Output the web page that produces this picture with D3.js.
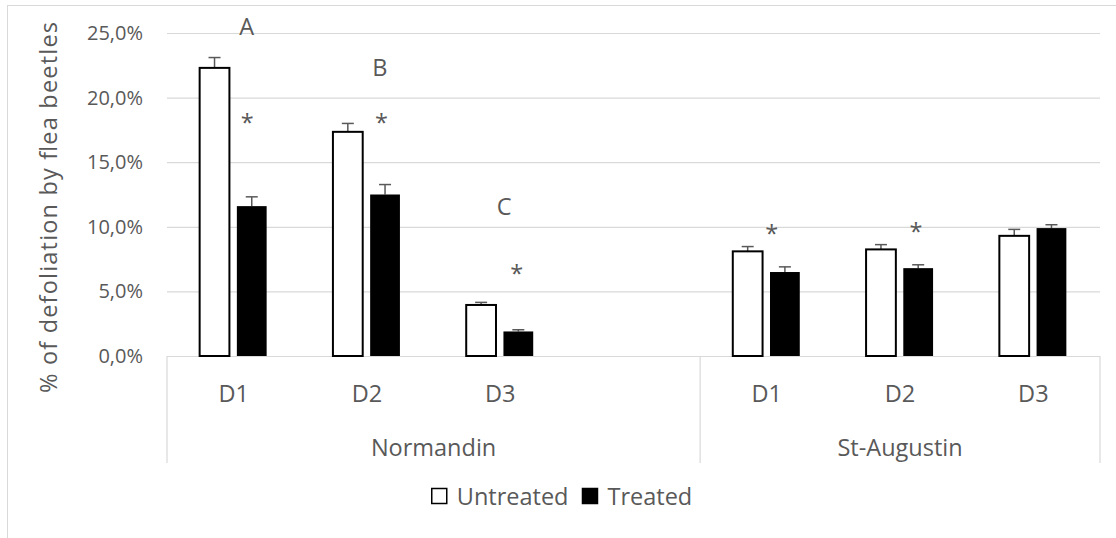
<!DOCTYPE html>
<html>
<head>
<meta charset="utf-8">
<script src="https://cdn.jsdelivr.net/npm/d3@7"></script>
<style>
  html, body { margin: 0; padding: 0; background: #ffffff; }
  svg { display: block; }
  text { font-family: "Open Sans", sans-serif; fill: #595959; }
</style>
</head>
<body>
<svg id="chart" width="1116" height="538"></svg>
<script>
// ---- data ----
const sites = ["Normandin", "Normandin", "Normandin", "Normandin", "St-Augustin", "St-Augustin", "St-Augustin"];
const dates = ["D1", "D2", "D3", "", "D1", "D2", "D3"];
const seriesNames = ["Untreated", "Treated"];
const untreated    = [22.3, 17.35, 3.95, null, 8.1, 8.25, 9.3];
const untreatedErr = [0.8, 0.65, 0.2, null, 0.37, 0.37, 0.5];
const treated      = [11.6, 12.5, 1.9, null, 6.5, 6.8, 9.9];
const treatedErr   = [0.72, 0.77, 0.13, null, 0.4, 0.26, 0.26];
const yTicks = [0, 5, 10, 15, 20, 25];
const yTitle = "% of defoliation by flea beetles";

// significance letters and asterisks: category index, label, height in % units
const noteCats   = [0, 1, 2, 0, 1, 2, 4, 5];
const noteLabels = ["A", "B", "C", "*", "*", "*", "*", "*"];
const noteValues = [24.85, 21.65, 10.9, 17.4, 17.4, 5.7, 8.8, 8.95];

// ---- layout ----
const W = 1116, H = 538;
const plot = { left: 167, right: 1100, top: 33, bottom: 356 };
const catAxisBottom = 463;
const ink = "#595959", grid = "#d9d9d9";

const svg = d3.select("#chart");

// chart area border
svg.append("rect")
  .attr("x", 7.5).attr("y", 5.5)
  .attr("width", 1110).attr("height", 545)
  .attr("fill", "#ffffff").attr("stroke", grid).attr("stroke-width", 1);

const x = d3.scaleBand().domain(d3.range(sites.length)).range([plot.left, plot.right]).padding(0);
const xs = d3.scaleBand().domain(seriesNames).range([-34, 33]).paddingInner(0.2);
const y = d3.scaleLinear().domain([0, 25]).range([plot.bottom, plot.top]);

const pct = d => d3.format(".1f")(d).replace(".", ",") + "%";

// value axis with gridlines
const yAxis = svg.append("g")
  .attr("transform", `translate(${plot.left},0)`)
  .call(d3.axisLeft(y).tickValues(yTicks).tickFormat(pct)
    .tickSize(-(plot.right - plot.left)).tickPadding(24));
yAxis.select(".domain").remove();
yAxis.selectAll(".tick line").attr("stroke", grid).attr("stroke-width", 1.2);
yAxis.selectAll(".tick text")
  .style("font-family", "'Open Sans', sans-serif")
  .style("font-size", "20px").attr("fill", ink);

// value axis title
svg.append("text")
  .attr("transform", `translate(57,${(22 + 393) / 2}) rotate(-90)`)
  .attr("text-anchor", "middle")
  .attr("textLength", 371).attr("lengthAdjust", "spacing")
  .style("font-size", "23.5px")
  .text(yTitle);

// category axis: group separators
const groups = Array.from(new Set(sites));
const groupSpans = groups.map(g => {
  const idx = d3.range(sites.length).filter(i => sites[i] === g);
  return { name: g, x0: x(idx[0]), x1: x(idx[idx.length - 1]) + x.bandwidth() };
});
const edges = Array.from(new Set(groupSpans.flatMap(s => [s.x0, s.x1])));
svg.append("g").selectAll("line").data(edges).join("line")
  .attr("x1", d => d).attr("x2", d => d)
  .attr("y1", plot.bottom).attr("y2", catAxisBottom)
  .attr("stroke", grid).attr("stroke-width", 1.2);

// category labels
svg.append("g").selectAll("text").data(d3.range(sites.length)).join("text")
  .attr("x", i => x(i) + x.bandwidth() / 2)
  .attr("y", 402)
  .attr("text-anchor", "middle")
  .style("font-size", "23.5px")
  .text(i => dates[i]);

svg.append("g").selectAll("text").data(groupSpans).join("text")
  .attr("x", d => (d.x0 + d.x1) / 2)
  .attr("y", 456)
  .attr("text-anchor", "middle")
  .style("font-size", "23.5px")
  .text(d => d.name);

// bars
const barData = [];
d3.range(sites.length).forEach(i => {
  if (untreated[i] != null) barData.push({ i, s: "Untreated", v: untreated[i], e: untreatedErr[i] });
  if (treated[i] != null) barData.push({ i, s: "Treated", v: treated[i], e: treatedErr[i] });
});

const bw = xs.bandwidth();
const cx = d => x(d.i) + x.bandwidth() / 2 + xs(d.s);

// error bars (plus direction)
const eb = svg.append("g").selectAll("g").data(barData).join("g");
eb.append("line")
  .attr("x1", d => cx(d) + bw / 2).attr("x2", d => cx(d) + bw / 2)
  .attr("y1", d => y(d.v)).attr("y2", d => y(d.v + d.e))
  .attr("stroke", ink).attr("stroke-width", 1.5);
eb.append("line")
  .attr("x1", d => cx(d) + bw / 2 - 6).attr("x2", d => cx(d) + bw / 2 + 6)
  .attr("y1", d => y(d.v + d.e)).attr("y2", d => y(d.v + d.e))
  .attr("stroke", ink).attr("stroke-width", 1.5);

svg.append("g").selectAll("rect").data(barData).join("rect")
  .attr("x", d => cx(d))
  .attr("y", d => y(d.v))
  .attr("width", bw)
  .attr("height", d => y(0) - y(d.v))
  .attr("fill", d => d.s === "Untreated" ? "#ffffff" : "#000000")
  .attr("stroke", "#000000")
  .attr("stroke-width", d => d.s === "Untreated" ? 2 : 0);

// significance annotations
const noteDx = { "A": 13, "B": 13, "C": 4 };
const starDx = [13.5, 14.5, 16.5, 5, 16];
let k = 0;
svg.append("g").selectAll("text").data(d3.range(noteLabels.length)).join("text")
  .attr("x", j => {
    const c = x(noteCats[j]) + x.bandwidth() / 2;
    return c + (noteLabels[j] === "*" ? starDx[j - 3] : noteDx[noteLabels[j]]);
  })
  .attr("y", j => y(noteValues[j]))
  .attr("text-anchor", "middle")
  .style("font-size", "23.5px")
  .text(j => noteLabels[j]);

// legend
const legend = svg.append("g");
const items = legend.selectAll("g").data(seriesNames).join("g");
items.append("rect")
  .attr("width", 15).attr("height", 15)
  .attr("fill", d => d === "Untreated" ? "#ffffff" : "#000000")
  .attr("stroke", "#000000").attr("stroke-width", 1.5);
items.append("text")
  .attr("x", 25).attr("y", 16.5)
  .style("font-size", "23.5px")
  .text(d => d);
let off = 0;
items.each(function () {
  const g = d3.select(this);
  g.attr("transform", `translate(${off},488.5)`);
  off += 25 + g.select("text").node().getComputedTextLength() + 14;
});
const legendW = off - 14;
legend.attr("transform", `translate(${(7 + 1117) / 2 - legendW / 2},0)`);
</script>
</body>
</html>
